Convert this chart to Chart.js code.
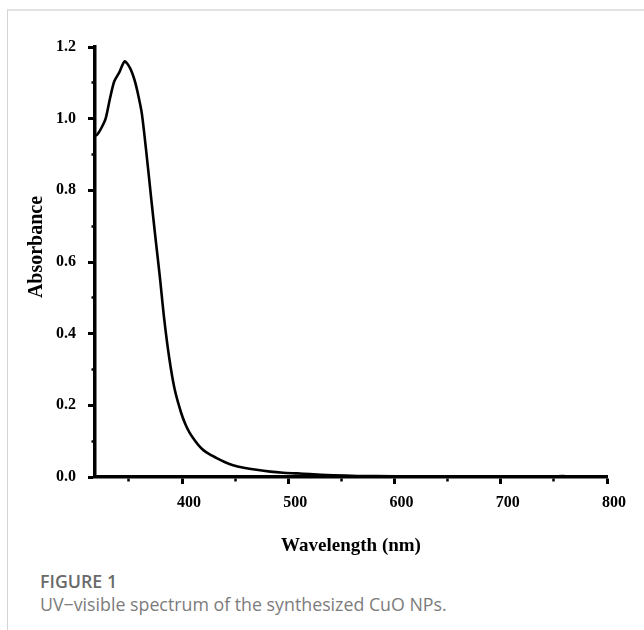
<!DOCTYPE html>
<html>
<head>
<meta charset="utf-8">
<script src="https://cdn.jsdelivr.net/npm/chart.js@4"></script>
<style>
  html, body { margin: 0; padding: 0; background: #fff; width: 644px; height: 630px; overflow: hidden; }
  .frame { position: absolute; left: 7px; top: 9px; width: 700px; height: 700px;
           border-top: 2px solid #e2e2e2; border-left: 1px solid #d4d4d4; }
  .chart-box { position: absolute; left: 0; top: 0; width: 644px; height: 560px; }
  .fig-label { position: absolute; left: 40px; top: 569px; font: 600 17.8px "Open Sans"; color: #6a6a6a; }
  .fig-caption { position: absolute; left: 40px; top: 592px; font: 400 17.8px "Open Sans"; color: #7c7c7c; }
</style>
</head>
<body>
<div class="frame"></div>
<div class="chart-box"><canvas id="spectrum"></canvas></div>
<div class="fig-label">FIGURE 1</div>
<div class="fig-caption">UV−visible spectrum of the synthesized CuO NPs.</div>

<script>
// values (nm vs absorbance)
const wavelength = [318, 320, 324, 328, 332, 336, 341, 346, 351, 355, 358, 362, 366, 371, 375, 379,
  383, 388, 393, 399, 403, 407, 412, 416, 420, 426, 433, 440, 448, 458, 470, 483, 495, 508, 520,
  542, 565, 600, 650, 700, 750, 758, 765, 800];
const absorbance = [0.952, 0.955, 0.974, 1.000, 1.055, 1.103, 1.130, 1.160, 1.141, 1.110, 1.075,
  1.016, 0.915, 0.775, 0.665, 0.560, 0.445, 0.330, 0.245, 0.180, 0.148, 0.124, 0.102, 0.087, 0.075,
  0.063, 0.052, 0.042, 0.033, 0.026, 0.020, 0.015, 0.012, 0.010, 0.008, 0.005, 0.003, 0.002, 0.001,
  0.001, 0.001, 0.003, 0.001, 0.001];

const xMajorTicks = [400, 500, 600, 700, 800];
const xMinorTicks = [350, 450, 550, 650, 750];
const yMajorTicks = [0, 0.2, 0.4, 0.6, 0.8, 1.0, 1.2];
const yMinorTicks = [0.1, 0.3, 0.5, 0.7, 0.9, 1.1];

const xTitle = 'Wavelength (nm)';
// the original label sits a little above the middle of the axis
const yTitle = '      Absorbance';

const tickFont = { family: 'Liberation Serif', size: 16, weight: 'bold' };
const xTitleFont = { family: 'Liberation Serif', size: 19, weight: 'bold', lineHeight: 1.2 };
const yTitleFont = { family: 'Liberation Serif', size: 20, weight: 'bold', lineHeight: 1.2 };

function inList(list, v) {
  return list.some(m => Math.abs(m - v) < 1e-6);
}

const ctx = document.getElementById('spectrum').getContext('2d');
new Chart(ctx, {
  type: 'line',
  data: {
    datasets: [{
      label: 'CuO NPs',
      data: wavelength.map((w, i) => ({ x: w, y: absorbance[i] })),
      borderColor: '#000',
      borderWidth: 2.6,
      pointRadius: 0,
      tension: 0.25,
      fill: false
    }]
  },
  options: {
    responsive: true,
    maintainAspectRatio: false,
    animation: false,
    layout: { padding: { left: 0, top: 47, right: 37, bottom: 0 } },
    plugins: { legend: { display: false }, tooltip: { enabled: false } },
    scales: {
      x: {
        type: 'linear',
        min: 318,
        max: 800,
        afterBuildTicks: s => { s.ticks = xMinorTicks.concat(xMajorTicks).sort((a, b) => a - b).map(v => ({ value: v })); },
        afterFit: s => { s.height = 83; },
        border: { display: true, color: '#000', width: 3.5 },
        grid: {
          drawOnChartArea: false,
          tickLength: 7,
          tickColor: '#000',
          tickWidth: c => inList(xMinorTicks, c.tick.value) ? 2.5 : 3,
          tickBorderDash: c => inList(xMinorTicks, c.tick.value) ? [3, 40] : []
        },
        ticks: {
          autoSkip: false,
          maxRotation: 0,
          padding: 9,
          labelOffset: 7,
          color: '#000',
          font: tickFont,
          callback: v => inList(xMajorTicks, v) ? String(v) : ''
        },
        title: { display: true, text: xTitle, color: '#000', font: xTitleFont, padding: { top: 0, bottom: 3 } }
      },
      y: {
        type: 'linear',
        min: 0,
        max: 1.2,
        afterBuildTicks: s => { s.ticks = yMinorTicks.concat(yMajorTicks).sort((a, b) => a - b).map(v => ({ value: v })); },
        afterFit: s => { s.width = 95; },
        border: { display: true, color: '#000', width: 3.5 },
        grid: {
          drawOnChartArea: false,
          tickLength: 7,
          tickColor: '#000',
          tickWidth: c => inList(yMinorTicks, c.tick.value) ? 2.5 : 3,
          tickBorderDash: c => inList(yMinorTicks, c.tick.value) ? [0, 3.5, 20, 20] : []
        },
        ticks: {
          autoSkip: false,
          padding: 12,
          color: '#000',
          font: tickFont,
          callback: v => inList(yMajorTicks, v) ? v.toFixed(1) : ''
        },
        title: { display: true, text: yTitle, color: '#000', font: yTitleFont, padding: { top: 25, bottom: 0 } }
      }
    }
  }
});
</script>
</body>
</html>
